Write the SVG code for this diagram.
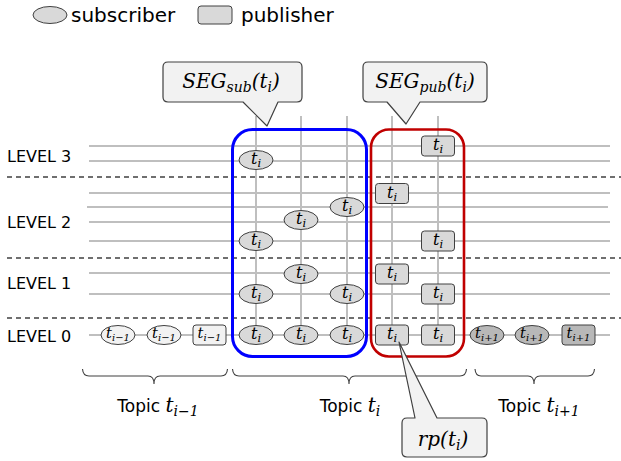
<svg xmlns="http://www.w3.org/2000/svg" width="621" height="461" viewBox="0 0 621 461">
<defs>
<style>
.lab{font-family:"DejaVu Sans",Verdana,sans-serif;fill:#000}
.m{font-family:"DejaVu Serif","Liberation Serif",serif;font-style:italic;fill:#000}
.grid{stroke:#bfbfbf;stroke-width:2;fill:none}
.dash{stroke:#404040;stroke-width:1.3;stroke-dasharray:5 4;fill:none}
.sub{fill:#d9d9d9;stroke:#404040;stroke-width:1}
.prev{fill:#f2f2f2;stroke:#404040;stroke-width:1}
.next{fill:#b8b8b8;stroke:#404040;stroke-width:1}
.call{fill:#f2f2f2;stroke:#404040;stroke-width:1.2;stroke-linejoin:round}
.brace{fill:none;stroke:#404040;stroke-width:1.1}
.nt{font-size:16px;text-anchor:middle}
.ns{font-size:11.5px}
.pt{font-size:14.5px;text-anchor:middle}
.ps{font-size:10px}
</style>
</defs>
<rect width="621" height="461" fill="#fff"/>

<g id="legend">
<ellipse cx="50" cy="15" rx="17" ry="8.5" class="sub"/>
<text x="71" y="22" class="lab" font-size="20">subscriber</text>
<rect x="198" y="6" width="34" height="18" rx="3" class="sub"/>
<text x="241" y="22" class="lab" font-size="20">publisher</text>
</g>

<g id="levels" class="lab" font-size="16">
<text x="7" y="162">LEVEL 3</text>
<text x="7" y="228">LEVEL 2</text>
<text x="7" y="289">LEVEL 1</text>
<text x="7" y="342">LEVEL 0</text>
</g>

<g id="connectors">
<g class="grid">
<line x1="89" y1="146" x2="610" y2="146"/>
<line x1="89" y1="161" x2="610" y2="161"/>
<line x1="89" y1="193" x2="610" y2="193"/>
<line x1="87" y1="207" x2="608" y2="207"/>
<line x1="89" y1="222" x2="610" y2="222"/>
<line x1="89" y1="241" x2="610" y2="241"/>
<line x1="89" y1="273" x2="610" y2="273"/>
<line x1="89" y1="294" x2="610" y2="294"/>
<line x1="89" y1="335" x2="610" y2="335"/>
<line x1="256" y1="116" x2="256" y2="335"/>
<line x1="301" y1="116" x2="301" y2="335"/>
<line x1="347" y1="116" x2="347" y2="335"/>
<line x1="392" y1="116" x2="392" y2="335"/>
<line x1="438" y1="116" x2="438" y2="335"/>
</g>
<g class="dash">
<line x1="7" y1="177" x2="621" y2="177"/>
<line x1="7" y1="258" x2="621" y2="258"/>
<line x1="7" y1="318" x2="621" y2="318"/>
</g>
</g>

<g id="seg-sub-box"><rect x="232.5" y="129.5" width="134" height="227" rx="20" fill="none" stroke="#0000ff" stroke-width="3"/></g>
<g id="seg-pub-box"><rect x="371" y="129.5" width="93" height="227" rx="18" fill="none" stroke="#c00000" stroke-width="2.6"/></g>

<g id="n-l3-s1"><ellipse cx="256" cy="160" rx="17" ry="9.5" class="sub"/><text x="256" y="164" class="m nt">t<tspan class="ns" dy="3">i</tspan></text></g>
<g id="n-l3-p1"><rect x="421.5" y="136" width="33" height="20" rx="3" class="sub"/><text x="438" y="150" class="m nt">t<tspan class="ns" dy="3">i</tspan></text></g>

<g id="n-l2-p1"><rect x="375.5" y="183.5" width="33" height="20" rx="3" class="sub"/><text x="392" y="197.5" class="m nt">t<tspan class="ns" dy="3">i</tspan></text></g>
<g id="n-l2-s1"><ellipse cx="347" cy="207" rx="17" ry="9.5" class="sub"/><text x="347" y="211" class="m nt">t<tspan class="ns" dy="3">i</tspan></text></g>
<g id="n-l2-s2"><ellipse cx="301" cy="220" rx="17" ry="9.5" class="sub"/><text x="301" y="224" class="m nt">t<tspan class="ns" dy="3">i</tspan></text></g>
<g id="n-l2-s3"><ellipse cx="256" cy="241" rx="17" ry="9.5" class="sub"/><text x="256" y="245" class="m nt">t<tspan class="ns" dy="3">i</tspan></text></g>
<g id="n-l2-p2"><rect x="421.5" y="231" width="33" height="20" rx="3" class="sub"/><text x="438" y="245" class="m nt">t<tspan class="ns" dy="3">i</tspan></text></g>

<g id="n-l1-s1"><ellipse cx="301" cy="274" rx="17" ry="9.5" class="sub"/><text x="301" y="278" class="m nt">t<tspan class="ns" dy="3">i</tspan></text></g>
<g id="n-l1-p1"><rect x="375.5" y="264" width="33" height="20" rx="3" class="sub"/><text x="392" y="278" class="m nt">t<tspan class="ns" dy="3">i</tspan></text></g>
<g id="n-l1-s2"><ellipse cx="256" cy="294" rx="17" ry="9.5" class="sub"/><text x="256" y="298" class="m nt">t<tspan class="ns" dy="3">i</tspan></text></g>
<g id="n-l1-s3"><ellipse cx="347" cy="294" rx="17" ry="9.5" class="sub"/><text x="347" y="298" class="m nt">t<tspan class="ns" dy="3">i</tspan></text></g>
<g id="n-l1-p2"><rect x="421.5" y="284" width="33" height="20" rx="3" class="sub"/><text x="438" y="298" class="m nt">t<tspan class="ns" dy="3">i</tspan></text></g>

<g id="n-l0-prev-s1"><ellipse cx="118" cy="335" rx="17" ry="9.5" class="prev"/><text x="118" y="338" class="m pt">t<tspan class="ps" dy="3">i−1</tspan></text></g>
<g id="n-l0-prev-s2"><ellipse cx="164" cy="335" rx="17" ry="9.5" class="prev"/><text x="164" y="338" class="m pt">t<tspan class="ps" dy="3">i−1</tspan></text></g>
<g id="n-l0-prev-p1"><rect x="193" y="325" width="33" height="20" rx="3" class="prev"/><text x="209.5" y="338" class="m pt">t<tspan class="ps" dy="3">i−1</tspan></text></g>

<g id="n-l0-s1"><ellipse cx="256" cy="335" rx="17" ry="9.5" class="sub"/><text x="256" y="339" class="m nt">t<tspan class="ns" dy="3">i</tspan></text></g>
<g id="n-l0-s2"><ellipse cx="301" cy="335" rx="17" ry="9.5" class="sub"/><text x="301" y="339" class="m nt">t<tspan class="ns" dy="3">i</tspan></text></g>
<g id="n-l0-s3"><ellipse cx="347" cy="335" rx="17" ry="9.5" class="sub"/><text x="347" y="339" class="m nt">t<tspan class="ns" dy="3">i</tspan></text></g>
<g id="n-l0-p1"><rect x="375.5" y="325" width="33" height="20" rx="3" class="sub"/><text x="392" y="339" class="m nt">t<tspan class="ns" dy="3">i</tspan></text></g>
<g id="n-l0-p2"><rect x="421.5" y="325" width="33" height="20" rx="3" class="sub"/><text x="438" y="339" class="m nt">t<tspan class="ns" dy="3">i</tspan></text></g>

<g id="n-l0-next-s1"><ellipse cx="487" cy="335" rx="17" ry="9.5" class="next"/><text x="487" y="338" class="m pt">t<tspan class="ps" dy="3">i+1</tspan></text></g>
<g id="n-l0-next-s2"><ellipse cx="532" cy="335" rx="17" ry="9.5" class="next"/><text x="532" y="338" class="m pt">t<tspan class="ps" dy="3">i+1</tspan></text></g>
<g id="n-l0-next-p1"><rect x="562" y="325" width="33" height="20" rx="3" class="next"/><text x="578.5" y="338" class="m pt">t<tspan class="ps" dy="3">i+1</tspan></text></g>

<g id="braces">
<path class="brace" d="M82.5,369 Q83,376 89,376 L148,376 Q154,376 154,384 Q154,376 160,376 L221,376 Q227,376 227.5,369"/>
<path class="brace" d="M232.5,369 Q233,376 239,376 L343,376 Q349,376 349,384 Q349,376 355,376 L460,376 Q466,376 466.5,369"/>
<path class="brace" d="M475,369 Q475.5,376 481,376 L528,376 Q534,376 534,384 Q534,376 540,376 L588,376 Q594,376 594.5,369"/>
</g>

<g id="topic-labels">
<text x="158" y="412" text-anchor="middle"><tspan class="lab" font-size="17">Topic </tspan><tspan class="m" font-size="20">t</tspan><tspan class="m" font-size="14" dy="4">i−1</tspan></text>
<text x="350" y="412" text-anchor="middle"><tspan class="lab" font-size="17">Topic </tspan><tspan class="m" font-size="20">t</tspan><tspan class="m" font-size="14" dy="4">i</tspan></text>
<text x="539" y="412" text-anchor="middle"><tspan class="lab" font-size="17">Topic </tspan><tspan class="m" font-size="20">t</tspan><tspan class="m" font-size="14" dy="4">i+1</tspan></text>
</g>

<g id="callout-seg-sub">
<path class="call" d="M168,62 L297,62 Q302,62 302,67 L302,97 Q302,102 297,102 L278,102 L267,126 L243,102 L168,102 Q163,102 163,97 L163,67 Q163,62 168,62 Z"/>
<text x="231" y="88" text-anchor="middle" class="m" font-size="20">SEG<tspan font-size="14" dy="4">sub</tspan><tspan dy="-4">(t</tspan><tspan font-size="14" dy="4">i</tspan><tspan dy="-4">)</tspan></text>
</g>
<g id="callout-seg-pub">
<path class="call" d="M368,62 L482,62 Q487,62 487,67 L487,97 Q487,102 482,102 L420,102 L406,124 L387,102 L368,102 Q363,102 363,97 L363,67 Q363,62 368,62 Z"/>
<text x="425" y="88" text-anchor="middle" class="m" font-size="20">SEG<tspan font-size="14" dy="4">pub</tspan><tspan dy="-4">(t</tspan><tspan font-size="14" dy="4">i</tspan><tspan dy="-4">)</tspan></text>
</g>
<g id="callout-rp">
<path class="call" d="M407,418 L415,418 L399,342 L437,418 L482,418 Q487,418 487,423 L487,452 Q487,457 482,457 L407,457 Q402,457 402,452 L402,423 Q402,418 407,418 Z"/>
<text x="443" y="446" text-anchor="middle" class="m" font-size="20">rp(t<tspan font-size="14" dy="4">i</tspan><tspan dy="-4">)</tspan></text>
</g>
</svg>
